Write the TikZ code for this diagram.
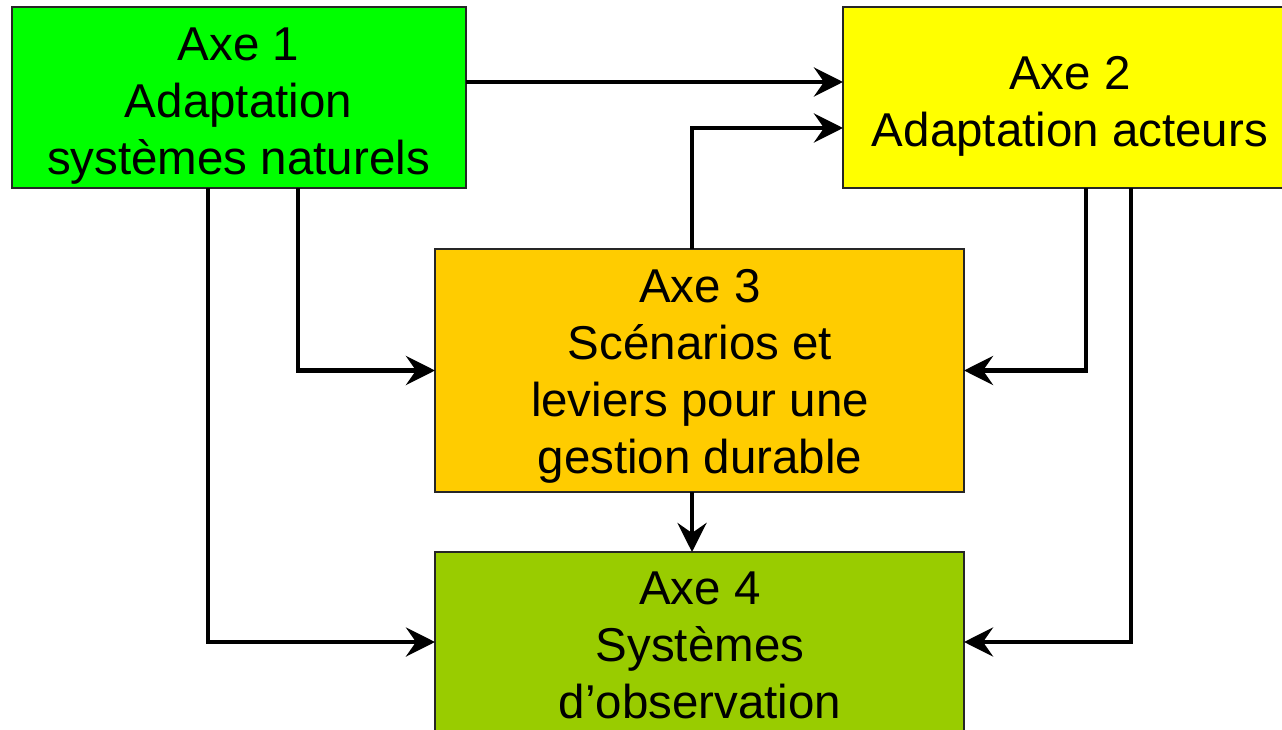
\documentclass[tikz,border=0pt]{standalone}
\usepackage{fontspec}
\setmainfont{Liberation Sans}
\usetikzlibrary{arrows.meta}
\definecolor{cA}{HTML}{00FF00}
\definecolor{cB}{HTML}{FFFF00}
\definecolor{cC}{HTML}{FFCC00}
\definecolor{cD}{HTML}{99CC00}
\tikzset{
  box/.style={draw=black!85, line width=1.4pt, inner sep=0pt, outer sep=0pt, rectangle},
  txt/.style={inner sep=0pt, outer sep=0pt, align=center, anchor=north, font=\fontsize{47.5}{57}\selectfont},
  arr/.style={line width=4.8pt, -{Stealth[length=29pt, width=29pt, inset=10pt]}},
}
\begin{document}
\begin{tikzpicture}[x=1pt,y=1pt]
\useasboundingbox (0,0) rectangle (1282,-730);
\clip (0,0) rectangle (1282,-730);
\fill[white] (0,0) rectangle (1282,-730);
% boxes
\node[box, fill=cA, minimum width=454pt, minimum height=181pt] (a1) at (239,-97.5) {};
\node[box, fill=cB, minimum width=447pt, minimum height=181pt] (a2) at (1066.5,-97.5) {};
\node[box, fill=cC, minimum width=529pt, minimum height=243pt] (a3) at (699.5,-370.5) {};
\node[box, fill=cD, minimum width=529pt, minimum height=180pt] (a4) at (699.5,-642) {};
% texts
\node[txt] (t1) at (238.5,-28) {Axe 1\\Adaptation\\systèmes naturels};
\node[txt] (t2) at (1070,-56) {Axe 2\\Adaptation acteurs};
\node[txt] (t3) at (700,-269) {Axe 3\\Scénarios et\\leviers pour une\\gestion durable};
\node[txt] (t4) at (700,-572) {Axe 4\\Systèmes\\d’observation};
% connectors
\draw[arr] ([yshift=15.5pt]a1.east) -- ([yshift=15.5pt]a2.west);
\draw[arr] ([xshift=-7.5pt]a3.north) |- ([yshift=-30.5pt]a2.west);
\draw[arr] ([xshift=59pt]a1.south) |- (a3.west);
\draw[arr] ([xshift=-31pt]a1.south) |- (a4.west);
\draw[arr] ([xshift=19.5pt]a2.south) |- (a3.east);
\draw[arr] ([xshift=64.5pt]a2.south) |- (a4.east);
\draw[arr] ([xshift=-7.5pt]a3.south) -- ([xshift=-7.5pt]a4.north);
\end{tikzpicture}
\end{document}
